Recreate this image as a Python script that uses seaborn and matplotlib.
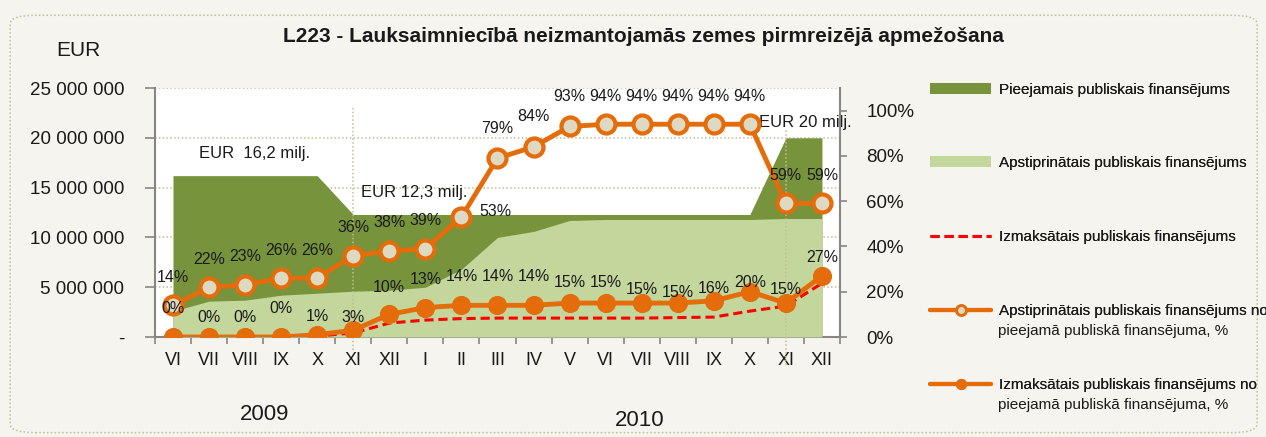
import numpy as np
import seaborn as sns
import matplotlib.pyplot as plt
from matplotlib.lines import Line2D
from matplotlib.patches import Patch, FancyBboxPatch
from matplotlib.ticker import FuncFormatter, FixedLocator

# months VI 2009 .. XII 2010
months = ["VI", "VII", "VIII", "IX", "X", "XI", "XII", "I", "II", "III", "IV",
          "V", "VI", "VII", "VIII", "IX", "X", "XI", "XII"]
# million EUR
available = [16.2, 16.2, 16.2, 16.2, 16.2, 12.3, 12.3, 12.3, 12.3, 12.3, 12.3,
             12.3, 12.3, 12.3, 12.3, 12.3, 12.3, 20.0, 20.0]
approved = [2.6, 3.6, 3.7, 4.2, 4.4, 4.6, 4.7, 5.0, 6.8, 10.0, 10.6,
            11.7, 11.8, 11.8, 11.8, 11.8, 11.8, 11.9, 11.9]
paid = [0.0, 0.0, 0.0, 0.0, 0.1, 0.4, 1.4, 1.7, 1.85, 1.9, 1.9,
        1.9, 1.9, 1.9, 1.95, 2.0, 2.6, 3.1, 5.4]
# percent of available
approved_pct = [14, 22, 23, 26, 26, 36, 38, 39, 53, 79, 84, 93, 94, 94, 94, 94, 94, 59, 59]
paid_pct = [0, 0, 0, 0, 1, 3, 10, 13, 14, 14, 14, 15, 15, 15, 15, 16, 20, 15, 27]

title = "L223 - Lauksaimniecībā neizmantojamās zemes pirmreizējā apmežošana"
legend_labels = [
    ("Pieejamais publiskais finansējums", ""),
    ("Apstiprinātais publiskais finansējums", ""),
    ("Izmaksātais publiskais finansējums", ""),
    ("Apstiprinātais publiskais finansējums no", "pieejamā publiskā finansējuma, %"),
    ("Izmaksātais publiskais finansējums no", "pieejamā publiskā finansējuma, %"),
]

# label offsets in pixels (layout only)
paid_lbl_dy = [29, 20, 20, 29, 18, 13, 27, 28, 29, 29, 29, 21, 21, 14, 11, 12, 9, 14, 18]
appr_lbl_dx = [0] * 8 + [34] + [0] * 10
appr_lbl_dy = [28] * 8 + [6] + [30, 30, 30] + [28] * 7

DARK = "#77933c"
LIGHT = "#c3d69b"
ORANGE = "#e46c0a"
BEIGE = "#ddd9c3"
RED = "#ff0000"
GRID = "#c4bd97"
AXC = "#868686"
BG = "#f5f4ef"

sns.set_style("white")
plt.rcParams["font.family"] = ["Liberation Sans", "DejaVu Sans"]
plt.rcParams["text.color"] = "#1a1a1a"

fig = plt.figure(figsize=(12.66, 4.37), dpi=100, facecolor=BG)
ax = fig.add_axes([0.1224, 0.2288, 0.5411, 0.5698])
ax.set_facecolor("white")

x = np.arange(len(months))
eur = 1e6
ax.fill_between(x, np.array(available) * eur, color=DARK, lw=0, zorder=2)
ax.fill_between(x, np.array(approved) * eur, color=LIGHT, lw=0, zorder=3)
sns.lineplot(x=x, y=np.array(paid) * eur, ax=ax, color=RED, lw=2.2,
             linestyle=(0, (3, 1.6)), zorder=4)

ax.set_xlim(-0.5, len(months) - 0.5)
ax.set_ylim(0, 25e6)
ax.set_yticks(np.arange(0, 25e6 + 1, 5e6))
ax.yaxis.set_major_formatter(FuncFormatter(
    lambda v, p: "-" if v == 0 else f"{int(v):,}".replace(",", " ")))
ax.set_xticks(x)
ax.set_xticklabels(months)
ax.xaxis.set_minor_locator(FixedLocator(np.arange(-0.5, len(months), 1)))
ax.tick_params(axis="x", which="major", length=0, pad=11, labelsize=13, labelcolor="#1a1a1a")
ax.tick_params(axis="x", which="minor", length=5, width=1.2, color=AXC, bottom=True)
ax.tick_params(axis="y", length=7, width=1.2, color=AXC, pad=15, labelsize=13.5,
               left=True, labelcolor="#1a1a1a")
ax.grid(axis="y", color=GRID, ls=(0, (1, 1.5)), lw=1.1)
ax.set_axisbelow(True)
for s in ["top", "right"]:
    ax.spines[s].set_visible(False)
for s in ["left", "bottom"]:
    ax.spines[s].set_color(AXC)
    ax.spines[s].set_linewidth(1.5)
ax.set_xlabel("")
ax.set_ylabel("")

# separator lines at XI
ax.axvline(5, ymin=-0.052, ymax=0.924, color=GRID, ls=(0, (1, 1.5)), lw=1.1,
           clip_on=False, zorder=5)
ax.axvline(17, ymin=-0.112, ymax=0.83, color=GRID, ls=(0, (1, 1.5)), lw=1.1,
           clip_on=False, zorder=5)

ax2 = ax.twinx()
ax2.set_ylim(0, 1.1)
a_pct = np.array(approved_pct) / 100
p_pct = np.array(paid_pct) / 100
sns.lineplot(x=x, y=a_pct, ax=ax2, color=ORANGE, lw=3.5, marker="o", markersize=13,
             markerfacecolor=BEIGE, markeredgecolor=ORANGE, markeredgewidth=3, zorder=6)
sns.lineplot(x=x, y=p_pct, ax=ax2, color=ORANGE, lw=3.5, marker="o", markersize=13,
             markerfacecolor=ORANGE, markeredgecolor=ORANGE, zorder=7)
ax2.set_yticks(np.arange(0, 1.01, 0.2))
ax2.yaxis.set_major_formatter(FuncFormatter(lambda v, p: f"{v * 100:.0f}%"))
ax2.tick_params(axis="y", length=5, width=1.2, color=AXC, pad=14, labelsize=13.5,
                right=True, labelcolor="#1a1a1a")
for s in ["top", "left", "bottom"]:
    ax2.spines[s].set_visible(False)
ax2.spines["right"].set_color(AXC)
ax2.spines["right"].set_linewidth(1.5)
ax2.set_ylabel("")

for i in range(len(months)):
    ax2.annotate(f"{approved_pct[i]}%", (x[i], a_pct[i]), xytext=(appr_lbl_dx[i], appr_lbl_dy[i]),
                 textcoords="offset pixels", ha="center", va="center", fontsize=11.5, zorder=8)
    ax2.annotate(f"{paid_pct[i]}%", (x[i], p_pct[i]), xytext=(0, paid_lbl_dy[i]),
                 textcoords="offset pixels", ha="center", va="center", fontsize=11.5, zorder=8)

ax.text(2.27, 18.4e6, "EUR  16,2 milj.", ha="center", va="center", fontsize=12, zorder=8)
ax.text(6.7, 14.5e6, "EUR 12,3 milj.", ha="center", va="center", fontsize=12, zorder=8)
ax.text(17.55, 21.5e6, "EUR 20 milj.", ha="center", va="center", fontsize=12, zorder=8)

fig.text(0.508, 1 - 37 / 437, title, ha="center", va="center", fontsize=15, fontweight="bold")
fig.text(78 / 1266, 1 - 50 / 437, "EUR", ha="center", va="center", fontsize=15)
fig.text(265 / 1266, 1 - 415 / 437, "2009", ha="center", va="center", fontsize=16)
fig.text(640 / 1266, 1 - 420 / 437, "2010", ha="center", va="center", fontsize=16)

handles = [
    Patch(facecolor=DARK, edgecolor="none"),
    Patch(facecolor=LIGHT, edgecolor="none"),
    Line2D([], [], color=RED, lw=2.2, ls=(0, (3, 1.6))),
    Line2D([], [], color=ORANGE, lw=3, marker="o", markersize=7,
           markerfacecolor=BEIGE, markeredgecolor=ORANGE, markeredgewidth=2),
    Line2D([], [], color=ORANGE, lw=3, marker="o", markersize=7,
           markerfacecolor=ORANGE, markeredgecolor=ORANGE),
]
legend_y = [90, 163, 237, 311, 385]
for h, (lab1, lab2), ly in zip(handles, legend_labels, legend_y):
    fig.add_artist(fig.legend(handles=[h], labels=[lab1], loc="center left",
                              bbox_to_anchor=(930 / 1266, 1 - ly / 437), frameon=False,
                              borderpad=0, borderaxespad=0, handlelength=4.0,
                              handletextpad=0.5, fontsize=11))
    if lab2:
        fig.text(998 / 1266, 1 - (ly + 20) / 437, lab2, ha="left", va="center", fontsize=11)

fig.add_artist(FancyBboxPatch((0.008, 0.01), 0.985, 0.955, transform=fig.transFigure,
                              boxstyle="round,pad=0,rounding_size=0.02", fill=False,
                              ec=GRID, ls=(0, (1, 1.5)), lw=1.1))

fig.savefig("out.png", dpi=100, facecolor=BG)
